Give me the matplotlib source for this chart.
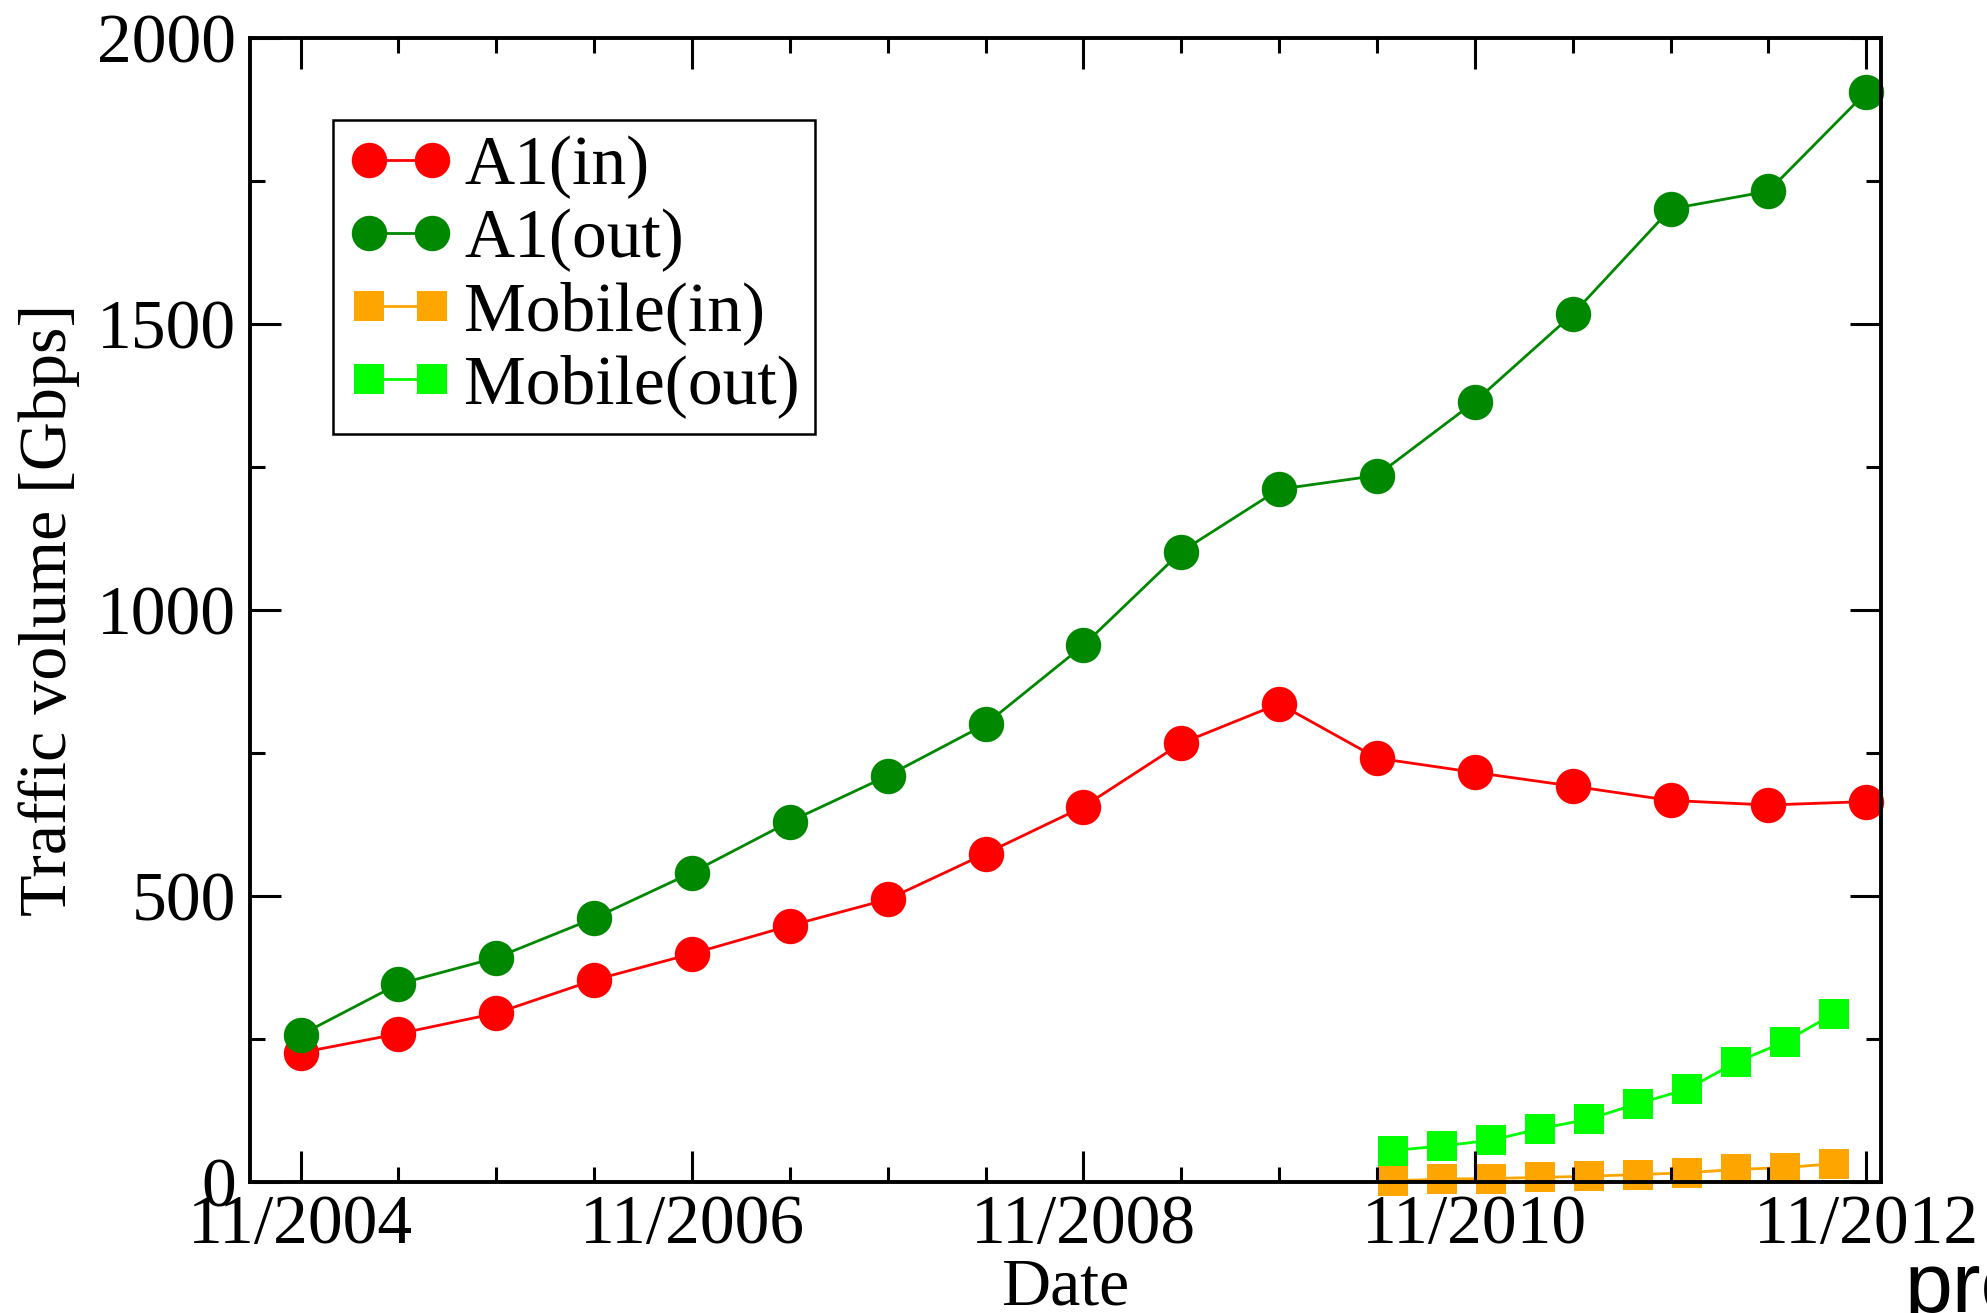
import numpy as np
import matplotlib
matplotlib.use("Agg")
import matplotlib.pyplot as plt
from matplotlib.ticker import MultipleLocator

# data (Gbps)
a1_dates = ["11/2004", "05/2005", "11/2005", "05/2006", "11/2006", "05/2007",
            "11/2007", "05/2008", "11/2008", "05/2009", "11/2009", "05/2010",
            "11/2010", "05/2011", "11/2011", "05/2012", "11/2012"]
a1_in = [226, 259, 295, 353, 399, 448, 494, 574, 656, 767, 836, 741,
         716, 692, 667, 659, 665]
a1_out = [257, 346, 392, 461, 541, 630, 710, 800, 938, 1102, 1211, 1235,
          1364, 1517, 1701, 1732, 1905]

mobile_dates = ["06/2010", "09/2010", "12/2010", "03/2011", "06/2011",
                "09/2011", "12/2011", "03/2012", "06/2012", "09/2012"]
mobile_in = [2, 5, 6, 8, 10, 13, 16, 22, 25, 32]
mobile_out = [55, 63, 73, 93, 110, 137, 162, 209, 245, 294]

tick_labels = ["11/2004", "11/2006", "11/2008", "11/2010", "11/2012"]


def months(dates):
    # months elapsed since 11/2004
    out = []
    for d in dates:
        m, y = d.split("/")
        out.append((int(y) - 2004) * 12 + int(m) - 11)
    return np.array(out)


plt.rcParams['font.family'] = ['Liberation Serif', 'DejaVu Serif']

fig = plt.figure(figsize=(19.87, 13.13), dpi=100)
ax = fig.add_axes([0.1258, 0.0998, 0.8208, 0.8713])

ms_c = 25.5
ms_s = 22
ax.plot(months(a1_dates), a1_in, '-o', color='#ff0000', lw=2, ms=ms_c,
        mew=0, clip_on=False, label='A1(in)')
ax.plot(months(a1_dates), a1_out, '-o', color='#008800', lw=2, ms=ms_c,
        mew=0, clip_on=False, label='A1(out)')
ax.plot(months(mobile_dates), mobile_in, '-s', color='#ffa500', lw=2, ms=ms_s,
        mew=0, clip_on=False, label='Mobile(in)')
ax.plot(months(mobile_dates), mobile_out, '-s', color='#00ff00', lw=2, ms=ms_s,
        mew=0, clip_on=False, label='Mobile(out)')

ax.set_xlim(-3.1, 96.9)
ax.set_ylim(0, 2000)
ax.set_xticks(months(tick_labels))
ax.set_xticklabels(tick_labels)
ax.xaxis.set_minor_locator(MultipleLocator(6))
ax.yaxis.set_major_locator(MultipleLocator(500))
ax.yaxis.set_minor_locator(MultipleLocator(250))

ax.tick_params(which='both', direction='in', top=True, right=True,
               width=2.2, labelsize=50)
ax.tick_params(which='major', length=22, pad=9)
ax.tick_params(which='minor', length=11)
ax.tick_params(axis='y', pad=10)
for s in ax.spines.values():
    s.set_linewidth(2.8)
ax.set_axisbelow(False)

ax.set_xlabel('Date', fontsize=49, labelpad=0)
ax.set_ylabel('Traffic volume [Gbps]', fontsize=49, labelpad=12)

leg = ax.legend(loc='upper left', bbox_to_anchor=(0.0509, 0.9283),
                borderaxespad=0, fontsize=50, numpoints=2, handlelength=1.5,
                handletextpad=0.17, borderpad=0.22, labelspacing=0.135,
                fancybox=False, framealpha=1, edgecolor='black')
leg.get_frame().set_linewidth(1.8)

fig.text(1905 / 1987, 1.0 / 1313, 'pro', fontsize=62,
         family=['Liberation Sans', 'DejaVu Sans'], ha='left', va='baseline')

fig.savefig('out.png', dpi=100)
